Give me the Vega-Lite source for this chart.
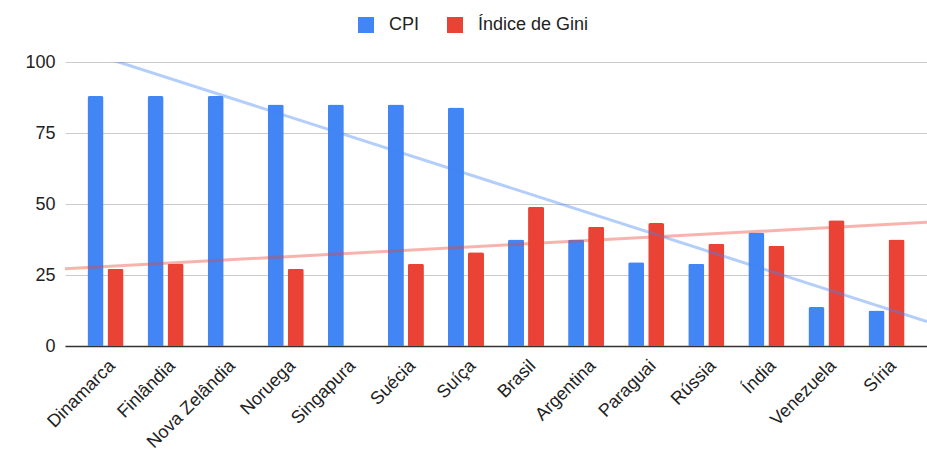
{
  "$schema": "https://vega.github.io/schema/vega-lite/v6.json",
  "width": 862,
  "height": 284,
  "autosize": {"type": "none"},
  "padding": {"left": 65, "top": 62, "right": 0, "bottom": 108},
  "background": "white",
  "config": {
    "font": "Liberation Sans",
    "view": {"stroke": null}
  },
  "data": {
    "values": [
      {"pais": "Dinamarca", "serie": "CPI", "valor": 88},
      {"pais": "Dinamarca", "serie": "Índice de Gini", "valor": 27.2},
      {"pais": "Finlândia", "serie": "CPI", "valor": 88},
      {"pais": "Finlândia", "serie": "Índice de Gini", "valor": 29},
      {"pais": "Nova Zelândia", "serie": "CPI", "valor": 88},
      {"pais": "Nova Zelândia", "serie": "Índice de Gini", "valor": null},
      {"pais": "Noruega", "serie": "CPI", "valor": 85},
      {"pais": "Noruega", "serie": "Índice de Gini", "valor": 27.2},
      {"pais": "Singapura", "serie": "CPI", "valor": 85},
      {"pais": "Singapura", "serie": "Índice de Gini", "valor": null},
      {"pais": "Suécia", "serie": "CPI", "valor": 85},
      {"pais": "Suécia", "serie": "Índice de Gini", "valor": 29},
      {"pais": "Suíça", "serie": "CPI", "valor": 84},
      {"pais": "Suíça", "serie": "Índice de Gini", "valor": 33},
      {"pais": "Brasil", "serie": "CPI", "valor": 37.5},
      {"pais": "Brasil", "serie": "Índice de Gini", "valor": 49},
      {"pais": "Argentina", "serie": "CPI", "valor": 37.5},
      {"pais": "Argentina", "serie": "Índice de Gini", "valor": 42},
      {"pais": "Paraguai", "serie": "CPI", "valor": 29.5},
      {"pais": "Paraguai", "serie": "Índice de Gini", "valor": 43.3},
      {"pais": "Rússia", "serie": "CPI", "valor": 29},
      {"pais": "Rússia", "serie": "Índice de Gini", "valor": 36},
      {"pais": "Índia", "serie": "CPI", "valor": 40},
      {"pais": "Índia", "serie": "Índice de Gini", "valor": 35.3},
      {"pais": "Venezuela", "serie": "CPI", "valor": 13.7},
      {"pais": "Venezuela", "serie": "Índice de Gini", "valor": 44.3},
      {"pais": "Síria", "serie": "CPI", "valor": 12.5},
      {"pais": "Síria", "serie": "Índice de Gini", "valor": 37.5}
    ]
  },
  "transform": [
    {"window": [{"op": "row_number", "as": "idx"}], "groupby": ["serie"]}
  ],
  "layer": [
    {
      "mark": {"type": "bar", "cornerRadiusTopLeft": 2, "cornerRadiusTopRight": 2},
      "encoding": {
        "x": {
          "field": "pais",
          "type": "nominal",
          "sort": null,
          "scale": {"paddingInner": 0.4, "paddingOuter": 0.374},
          "axis": {
            "title": null,
            "labelAngle": -45,
            "labelAlign": "right",
            "labelBaseline": "middle",
            "labelFontSize": 18,
            "labelColor": "#222222",
            "labelPadding": 17,
            "labelOffset": 7,
            "ticks": false,
            "domainColor": "#333333",
            "domainWidth": 1.5,
            "grid": false
          }
        },
        "xOffset": {
          "field": "serie",
          "type": "nominal",
          "sort": ["CPI", "Índice de Gini"],
          "scale": {"paddingInner": 0.2, "paddingOuter": 0}
        },
        "y": {
          "field": "valor",
          "type": "quantitative",
          "scale": {"domain": [0, 100], "nice": false},
          "axis": {
            "title": null,
            "values": [0, 25, 50, 75, 100],
            "grid": true,
            "gridColor": "#cccccc",
            "domain": false,
            "ticks": false,
            "labelPadding": 10,
            "labelFontSize": 18,
            "labelColor": "#222222"
          }
        },
        "color": {
          "field": "serie",
          "type": "nominal",
          "scale": {"domain": ["CPI", "Índice de Gini"], "range": ["#4285F4", "#EA4335"]},
          "legend": {
            "title": null,
            "orient": "none",
            "legendX": 292,
            "legendY": -46,
            "direction": "horizontal",
            "symbolType": "square",
            "symbolSize": 256,
            "symbolStrokeWidth": 0,
            "labelFontSize": 18,
            "labelColor": "#222222",
            "labelOffset": 14,
            "columnPadding": 26,
            "padding": 0
          }
        }
      }
    },
    {
      "transform": [
        {"regression": "valor", "on": "idx", "groupby": ["serie"], "extent": [0.326, 14.674]}
      ],
      "mark": {"type": "line", "strokeWidth": 3, "strokeOpacity": 0.4, "clip": true},
      "encoding": {
        "x": {
          "field": "idx",
          "type": "quantitative",
          "scale": {"domain": [0.326, 14.674], "nice": false, "zero": false},
          "axis": null
        },
        "y": {"field": "valor", "type": "quantitative"},
        "stroke": {
          "field": "serie",
          "type": "nominal",
          "scale": {"domain": ["CPI", "Índice de Gini"], "range": ["#4285F4", "#EA4335"]},
          "legend": null
        }
      }
    }
  ],
  "resolve": {"scale": {"x": "independent"}}
}
